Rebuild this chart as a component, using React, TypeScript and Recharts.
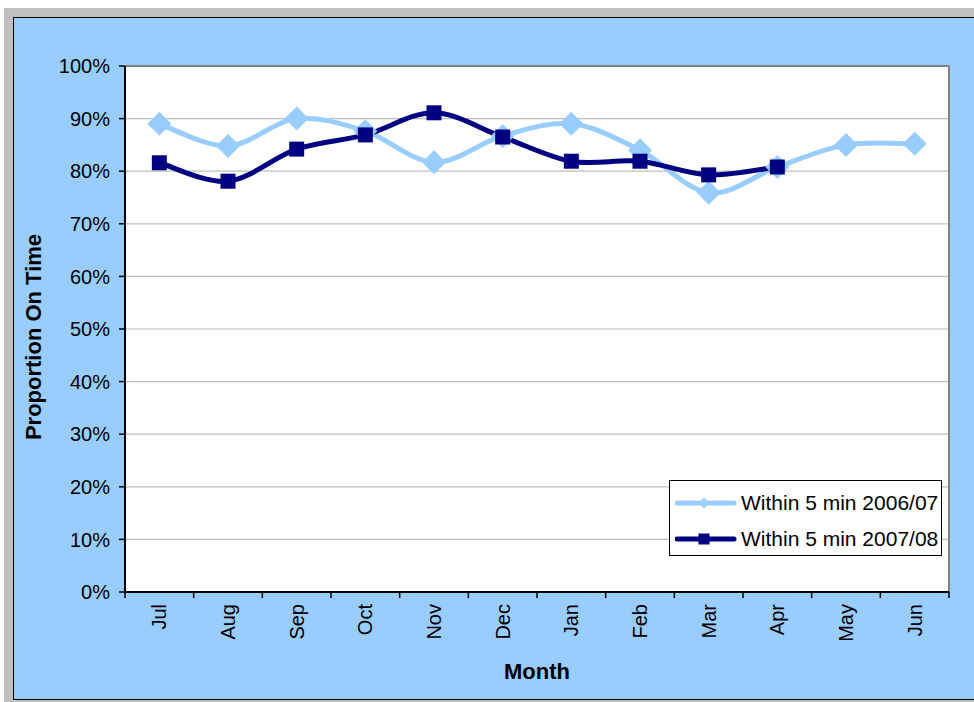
import React from 'react';
import { LineChart, Line, XAxis, YAxis, CartesianGrid, Legend, ReferenceLine, Label } from 'recharts';

// Monthly on-time proportions (percent), financial year Jul–Jun
const MONTHS = ['Jul', 'Aug', 'Sep', 'Oct', 'Nov', 'Dec', 'Jan', 'Feb', 'Mar', 'Apr', 'May', 'Jun'];
const WITHIN_5_2006_07: number[] = [89.0, 84.8, 90.0, 87.6, 81.7, 86.7, 89.0, 84.0, 75.9, 80.8, 85.0, 85.2];
const WITHIN_5_2007_08: (number | null)[] = [81.6, 78.1, 84.2, 86.9, 91.1, 86.5, 81.9, 81.9, 79.3, 80.8, null, null];
const SERIES_NAMES = ['Within 5 min 2006/07', 'Within 5 min 2007/08'];
const Y_TICKS = [0, 10, 20, 30, 40, 50, 60, 70, 80, 90, 100];

const LIGHT = '#99CCFF';
const NAVY = '#000080';
const FONT = '"Liberation Sans", Arial, Helvetica, sans-serif';

// Each month sits in the middle of its own slot on a 0..12 numeric axis
const data = MONTHS.map((m, i) => ({
  month: m,
  pos: i + 0.5,
  a: WITHIN_5_2006_07[i],
  b: WITHIN_5_2007_08[i],
}));
const BOUNDARY_TICKS = MONTHS.map((_, i) => i).concat(MONTHS.length);

// Smoothed line (cardinal/Catmull-Rom style Bezier segments)
function smoothCurve(context: any) {
  let pts: [number, number][] = [];
  return {
    areaStart() {},
    areaEnd() {},
    lineStart() {
      pts = [];
    },
    point(x: number, y: number) {
      pts.push([+x, +y]);
    },
    lineEnd() {
      const n = pts.length;
      if (!n) return;
      context.moveTo(pts[0][0], pts[0][1]);
      for (let i = 0; i < n - 1; i++) {
        const p0 = pts[Math.max(i - 1, 0)];
        const p1 = pts[i];
        const p2 = pts[i + 1];
        const p3 = pts[Math.min(i + 2, n - 1)];
        context.bezierCurveTo(
          p1[0] + (p2[0] - p0[0]) / 6,
          p1[1] + (p2[1] - p0[1]) / 6,
          p2[0] - (p3[0] - p1[0]) / 6,
          p2[1] - (p3[1] - p1[1]) / 6,
          p2[0],
          p2[1]
        );
      }
    },
  };
}

const DiamondDot = (props: any) => {
  const { cx, cy, value, index } = props;
  if (value == null || cy == null || cx == null) return <g key={`da-${index}`} />;
  const r = 12;
  return (
    <path
      key={`da-${index}`}
      d={`M${cx},${cy - r}L${cx + r},${cy}L${cx},${cy + r}L${cx - r},${cy}Z`}
      fill={LIGHT}
    />
  );
};

const SquareDot = (props: any) => {
  const { cx, cy, value, index } = props;
  if (value == null || cy == null || cx == null) return <g key={`db-${index}`} />;
  const s = 15;
  return <rect key={`db-${index}`} x={cx - s / 2} y={cy - s / 2} width={s} height={s} fill={NAVY} />;
};

// Month names drawn vertically in the middle of each slot
const MonthTick = (props: any) => {
  const { x, y, payload, width } = props;
  const i = payload?.value;
  if (i == null || i >= MONTHS.length) return <g />;
  const step = (typeof width === 'number' && width > 0 ? width : 824) / MONTHS.length;
  const cx = x + step / 2;
  const top = y + 4;
  return (
    <text
      x={cx}
      y={top}
      transform={`rotate(-90 ${cx} ${top})`}
      textAnchor="end"
      dominantBaseline="central"
      fontSize={20}
      fontFamily={FONT}
      fill="#000"
    >
      {MONTHS[i]}
    </text>
  );
};

const LegendBox = () => {
  const rows = [
    { name: SERIES_NAMES[0], color: LIGHT, marker: 'diamond' },
    { name: SERIES_NAMES[1], color: NAVY, marker: 'square' },
  ];
  return (
    <div
      style={{
        width: 273,
        height: 76,
        boxSizing: 'border-box',
        border: '1.5px solid #000',
        background: '#fff',
        paddingTop: 3,
        fontFamily: FONT,
      }}
    >
      {rows.map((r) => (
        <div key={r.name} style={{ display: 'flex', alignItems: 'center', height: 34, marginTop: 2 }}>
          <svg width={66} height={20} style={{ marginLeft: 5, flex: 'none' }}>
            <line x1={2} y1={10} x2={59} y2={10} stroke={r.color} strokeWidth={5} strokeLinecap="round" />
            {r.marker === 'diamond' ? (
              <path d="M29,4.5L34.5,10L29,15.5L23.5,10Z" fill={r.color} />
            ) : (
              <rect x={23.5} y={4.5} width={11} height={11} fill={r.color} />
            )}
          </svg>
          <span style={{ fontSize: 21, color: '#000', whiteSpace: 'nowrap', marginLeft: 0 }}>{r.name}</span>
        </div>
      ))}
    </div>
  );
};

export default function App() {
  return (
    <div
      style={{
        position: 'absolute',
        left: 0,
        top: 0,
        width: 974,
        height: 702,
        background: '#fff',
        overflow: 'hidden',
      }}
    >
      <div style={{ position: 'absolute', left: 4, top: 8, right: 0, bottom: 0, background: '#C0C0C0' }} />
      <div
        style={{
          position: 'absolute',
          left: 13,
          top: 17,
          width: 980,
          height: 683,
          boxSizing: 'border-box',
          background: LIGHT,
          border: '1.5px solid #000',
        }}
      />
      <div style={{ position: 'absolute', left: 0, top: 0 }}>
        <LineChart
          width={974}
          height={702}
          data={data}
          margin={{ top: 66, right: 25, bottom: 50, left: 65 }}
          style={{ fontFamily: FONT }}
        >
          <CartesianGrid vertical={false} stroke="#BDBDBD" strokeWidth={1.2} fill="#FFFFFF" fillOpacity={1} />
          <XAxis
            dataKey="pos"
            type="number"
            domain={[0, MONTHS.length]}
            ticks={BOUNDARY_TICKS}
            interval={0}
            height={60}
            axisLine={{ stroke: '#000', strokeWidth: 2 }}
            tickLine={{ stroke: '#000', strokeWidth: 1.5 }}
            tickSize={6}
            tick={<MonthTick />}
          >
            <Label
              content={(p: any) => {
                const vb = p.viewBox || { x: 125, width: 824 };
                return (
                  <text
                    x={vb.x + vb.width / 2}
                    y={679}
                    textAnchor="middle"
                    fontSize={22}
                    fontWeight="bold"
                    fontFamily={FONT}
                    fill="#000"
                  >
                    Month
                  </text>
                );
              }}
            />
          </XAxis>
          <YAxis
            type="number"
            domain={[0, 100]}
            ticks={Y_TICKS}
            interval={0}
            width={60}
            tickFormatter={(v: number) => `${v}%`}
            axisLine={{ stroke: '#000', strokeWidth: 2 }}
            tickLine={{ stroke: '#000', strokeWidth: 1.5 }}
            tickSize={6}
            tickMargin={9}
            tick={{ fontSize: 20, fill: '#000', fontFamily: FONT }}
          >
            <Label
              content={() => (
                <text
                  x={33}
                  y={337}
                  transform="rotate(-90 33 337)"
                  textAnchor="middle"
                  dominantBaseline="central"
                  fontSize={22}
                  fontWeight="bold"
                  fontFamily={FONT}
                  fill="#000"
                >
                  Proportion On Time
                </text>
              )}
            />
          </YAxis>
          <ReferenceLine y={100} stroke="#808080" strokeWidth={2} />
          <ReferenceLine x={MONTHS.length} stroke="#808080" strokeWidth={2} />
          <Legend
            layout="horizontal"
            verticalAlign="middle"
            align="center"
            content={() => <LegendBox />}
            wrapperStyle={{ position: 'absolute', left: 669, top: 480, width: 273, height: 76, bottom: 'auto', right: 'auto' }}
          />
          <Line
            name={SERIES_NAMES[0]}
            dataKey="a"
            type={smoothCurve as any}
            stroke={LIGHT}
            strokeWidth={5}
            dot={DiamondDot}
            activeDot={false}
            isAnimationActive={false}
          />
          <Line
            name={SERIES_NAMES[1]}
            dataKey="b"
            type={smoothCurve as any}
            stroke={NAVY}
            strokeWidth={5}
            dot={SquareDot}
            activeDot={false}
            isAnimationActive={false}
          />
        </LineChart>
      </div>
    </div>
  );
}
